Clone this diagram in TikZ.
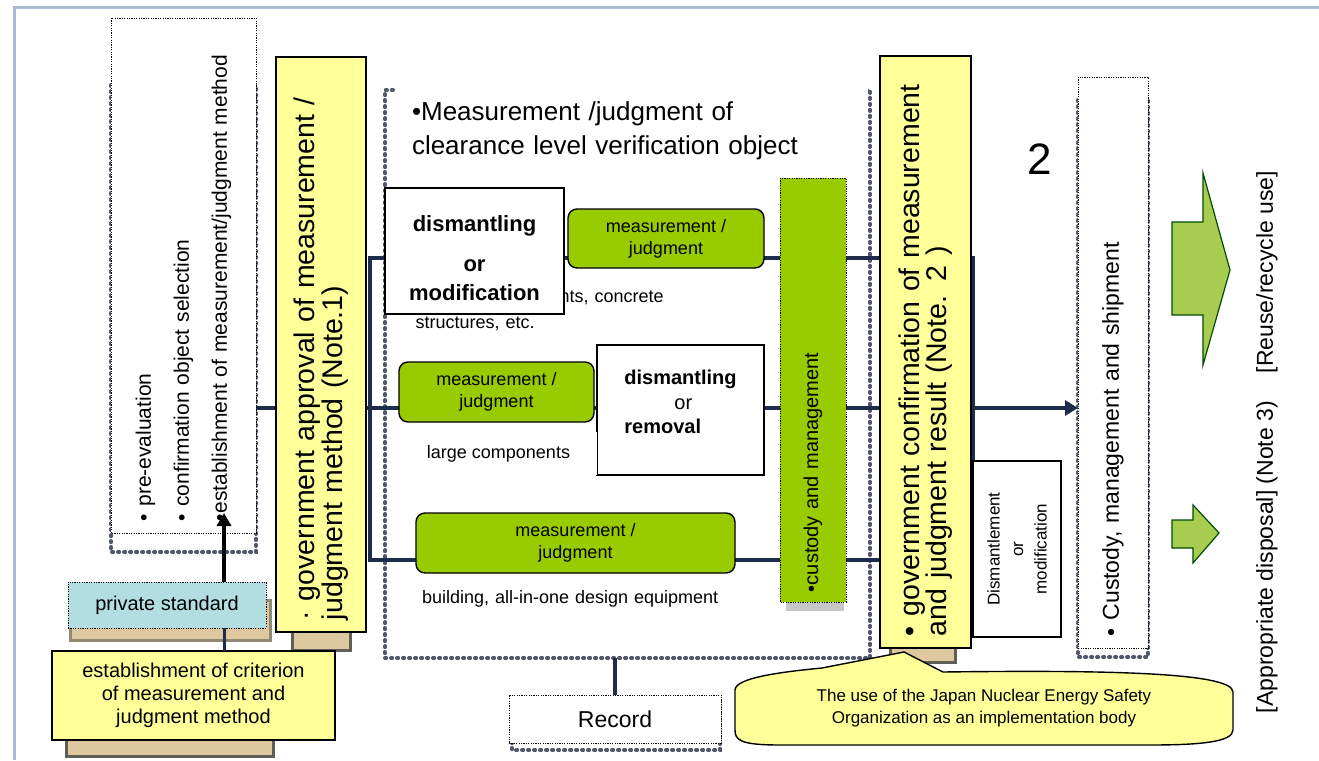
\documentclass[tikz,border=0pt]{standalone}
\usepackage{fontspec}
\setmainfont{Liberation Sans}
\usetikzlibrary{arrows.meta}
\definecolor{ylw}{RGB}{255,255,153}
\definecolor{grn}{RGB}{153,204,0}
\definecolor{teal1}{RGB}{178,222,226}
\definecolor{navy}{RGB}{30,45,75}
\definecolor{dotg}{RGB}{80,88,105}
\definecolor{frm}{RGB}{170,185,212}
\definecolor{shb}{RGB}{222,200,160}
\definecolor{shd}{RGB}{95,95,85}
\definecolor{arrg}{RGB}{168,204,80}
\newcommand{\fsz}[2]{\fontsize{#1}{#2}\selectfont}
\pgfdeclarelayer{bgzero}
\pgfdeclarelayer{bgone}
\pgfsetlayers{bgzero,bgone,main}
\tikzset{
  base/.style={inner sep=0pt, outer sep=0pt, font=\fsz{18}{21}},
  ybox/.style={base, draw=black, line width=1.6pt, fill=ylw},
  gbox/.style={base, draw=black, line width=1.4pt, fill=grn, rounded corners=9pt},
  wbox/.style={base, draw=black, line width=1.4pt, fill=white},
  dbox/.style={base, draw=black, line width=0.9pt, dash pattern=on 1.2pt off 1.2pt, fill=white},
  custbox/.style={base, draw=black, line width=0.9pt, dash pattern=on 1.2pt off 1.2pt, fill=grn},
  tealbox/.style={base, draw=black, line width=0.9pt, dash pattern=on 1.2pt off 1.2pt, fill=teal1},
  wlab/.style={base, fill=white},
  heavy/.style={draw=dotg, line width=4pt, line cap=round, dash pattern=on 1.2pt off 4.8pt},
  shadowbox/.style={fill=shb, draw=shd, line width=3pt},
  flow/.style={draw=navy, line width=4pt},
  flowarr/.style={flow, -{Triangle[length=13pt,width=15pt]}},
  blackarr/.style={draw=black, line width=3.5pt, -{Triangle[length=13pt,width=14pt]}},
  blockarr/.style={fill=arrg, draw=black!70!green, line width=1.2pt, line join=miter},
  rot/.style={rotate=90},
}
\begin{document}
\begin{tikzpicture}[x=1pt,y=-1pt]
\useasboundingbox (0,0) rectangle (1319,760);

% ---------- main nodes ----------
\node[dbox, rot, minimum width=515, minimum height=145, text width=491, align=left, font=\fsz{21}{38}] (lbox) at (183.5,275.5)
  {• pre-evaluation\\• confirmation object selection\\•establishment of measurement/judgment method};

\node[ybox, rot, minimum width=575, minimum height=90, text width=551, align=left, font=\fsz{28.5}{24}] (gapp) at (321,344.5)
  {· government approval of measurement /\\judgment method (Note.1)};

\node[tealbox, minimum width=198, minimum height=46, font=\fsz{20}{24}] (pstd) at (167,605) {private standard};

\node[ybox, minimum width=283, minimum height=89, align=center, font=\fsz{20}{23}] (crit) at (193.5,695.5)
  {establishment of criterion\\of measurement and\\judgment method};

\node[wlab, minimum width=473, minimum height=85, text width=439, align=left, font=\fsz{26}{34}] (head) at (631.5,130.5)
  {•Measurement /judgment of\\clearance level verification object};

\node[wlab, minimum width=350, minimum height=65, text width=319, align=left, font=\fsz{18}{26}] (labA) at (575,310.5)
  {\hspace*{144pt}nts, concrete\\structures, etc.};

\node[wbox, minimum width=179, minimum height=126] (dmod) at (474.5,251) {};
\node[base, align=center, font=\bfseries\fsz{22}{29}, yshift=-7pt] (dmodt) at (dmod.center)
  {dismantling\\[11pt]or\\modification};

\node[gbox, minimum width=196, minimum height=59, align=center, font=\fsz{18}{22}] (mj1) at (666,238.5) {measurement /\\judgment};

\node[gbox, minimum width=195, minimum height=60, align=center, font=\fsz{18}{22}] (mj2) at (496.5,392) {measurement /\\judgment};

\node[wbox, minimum width=167, minimum height=130] (drem) at (680.5,410) {};
\node[base, align=left, font=\fsz{20}{24.5}, yshift=8pt] (dremt) at (drem.center)
  {{\bfseries dismantling}\\\hspace*{50pt}or\\{\bfseries removal}};

\node[wlab, minimum width=197, minimum height=43, font=\fsz{18}{22}] (labB) at (498.5,453.5) {large components};

\node[gbox, minimum width=319, minimum height=60, align=center, font=\fsz{18}{22}] (mj3) at (575.5,543) {measurement /\\judgment};

\node[wlab, minimum width=363, minimum height=38, text width=319, align=left, font=\fsz{18}{22}] (labC) at (581.5,599)
  {building, all-in-one design equipment};

\node[custbox, rot, minimum width=424, minimum height=66, text width=404, align=left, font=\fsz{20}{24}] (cust) at (813,390)
  {•custody and management};

\node[ybox, rot, minimum width=592, minimum height=91, text width=568, align=left, font=\fsz{28.5}{23}] (gconf) at (925.5,352)
  {• government confirmation of measurement\\and judgment result (Note. 2 )};

\node[wbox, rot, minimum width=176, minimum height=88, align=center, font=\fsz{17}{23.5}] (dism) at (1017,549)
  {Dismantlement\\or\\modification};

\node[dbox, rot, minimum width=571, minimum height=70, text width=547, align=left, font=\fsz{23}{27}] (cship) at (1113,362.5)
  {• Custody, management and shipment};

\node[base, font=\fsz{44}{50}] (two) at (1040,159) {2};

\node[dbox, minimum width=212, minimum height=48, font=\fsz{23}{27}] (rec) at (615,719) {Record};

\node[base, rot, anchor=west, font=\fsz{23}{27}] (rlab) at (1267,713)
  {[Appropriate disposal] (Note 3)\hspace{28pt}[Reuse/recycle use]};

% callout
\draw[fill=ylw, draw=black, line width=1.4pt]
  (735,690) .. controls (735,678) and (780,672) .. (822,668) -- (904,652) -- (943,672)
  .. controls (1100,670) and (1233,672) .. (1233,692) -- (1233,730)
  .. controls (1233,742) and (1200,745) .. (1150,745) -- (780,745)
  .. controls (740,745) and (735,740) .. (735,730) -- cycle;
\node[base, align=center, font=\fsz{17}{22}] (callt) at (984,708)
  {The use of the Japan Nuclear Energy Safety\\Organization as an implementation body};

% block arrows
\draw[blockarr] (1172,222) -- (1203,222) -- (1203,173) -- (1230,270) -- (1203,365) -- (1203,315) -- (1172,315) -- cycle;
\draw[blockarr] (1172,520) -- (1193,520) -- (1193,505) -- (1219,533) -- (1193,563) -- (1193,548) -- (1172,548) -- cycle;

% arrows near left
\coordinate (aTip) at (224,513);
\draw[blackarr] (pstd.north -| aTip) -- (aTip);
\draw[navy, line width=3pt] (crit.north -| aTip) -- (pstd.south -| aTip);

% ---------- background layers ----------
\begin{pgfonlayer}{bgzero}
  \fill[white] (0,0) rectangle (1319,760);
  \draw[frm, line width=3pt] (14,760) -- (14,8) -- (1319,8);
  \draw[shadowbox] (292,600) rectangle (350,650);
  \draw[shadowbox] (890,600) rectangle (955,662);
  \draw[shadowbox, draw=shd!60!shb] (70,600) rectangle (270,640);
  \draw[shadowbox] (66,700) rectangle (273,756);
  \fill[black!22] (786,590) rectangle (844,611);
  \draw[heavy] (111,85) rectangle (256,552);
  \draw[heavy] (1078,100) rectangle (1148,657);
  \draw[heavy] (512,700) rectangle (720,750);
  \node[base, heavy, minimum width=485, minimum height=568] (bigbox) at (627.5,374) {};
\end{pgfonlayer}

\begin{pgfonlayer}{bgone}
  \coordinate (jTL) at (370,258);
  \coordinate (jBL) at (370,560);
  \coordinate (mL) at (256,408);
  \draw[flow] (gconf.center |- jBL) -- (jBL) -- (jTL) -- (dism.north |- jTL) -- (dism.north);
  \draw[flowarr] (lbox.south |- mL) -- (cship.north |- mL);
  \draw[flow] (rec.north) -- (rec.north |- bigbox.south);
\end{pgfonlayer}
\end{tikzpicture}
\end{document}
